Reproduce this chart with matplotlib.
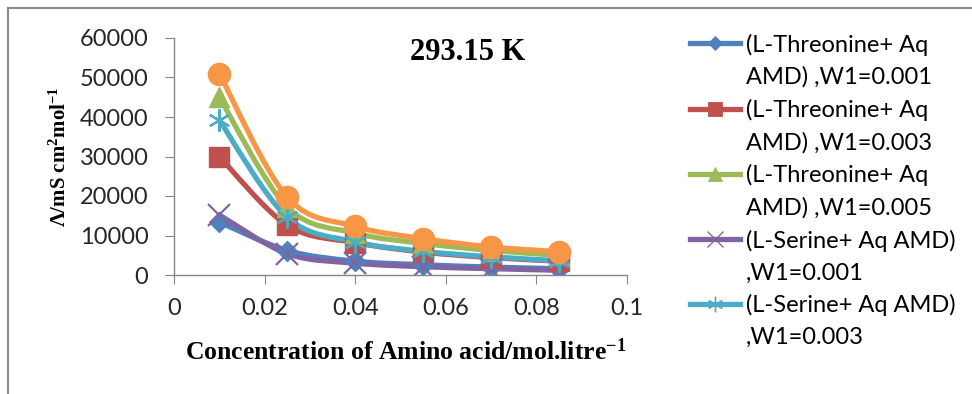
# Libraries ----------------------------------------

import numpy as np
import matplotlib
matplotlib.use("Agg")
import matplotlib.pyplot as plt
from matplotlib.path import Path
from matplotlib.patches import PathPatch
from matplotlib.lines import Line2D

# Data ----------------------------------------

conc = [0.01, 0.025, 0.04, 0.055, 0.07, 0.085]

thr_001 = [13400, 6200, 3500, 2600, 2000, 1600]
thr_003 = [30000, 12600, 8200, 5800, 4400, 3500]
thr_005 = [45000, 17200, 10600, 8000, 6200, 5000]
ser_001 = [15200, 5400, 3000, 2100, 1600, 1200]
ser_003 = [39200, 14600, 8400, 6000, 4600, 3600]
ser_005 = [51000, 19700, 12300, 9200, 7100, 5900]

labels = ["(L-Threonine+ Aq\nAMD) ,W1=0.001",
          "(L-Threonine+ Aq\nAMD) ,W1=0.003",
          "(L-Threonine+ Aq\nAMD) ,W1=0.005",
          "(L-Serine+ Aq AMD)\n,W1=0.001",
          "(L-Serine+ Aq AMD)\n,W1=0.003",
          "(L-Serine+ Aq AMD)\n,W1=0.005"]

x_ticks = [0, 0.02, 0.04, 0.06, 0.08, 0.1]
y_ticks = [0, 10000, 20000, 30000, 40000, 50000, 60000]

# Styles ----------------------------------------

series = [thr_001, thr_003, thr_005, ser_001, ser_003, ser_005]
colors = ["#4F81BD", "#C0504D", "#9BBB59", "#8064A2", "#4BACC6", "#F79646"]
markers = ["D", "s", "^", "x", (6, 2, 0), "o"]
msizes = [10, 14, 14, 16, 16, 16]

plt.rcParams['mathtext.default'] = 'regular'
tick_font = "Lato"
serif = "Liberation Serif"


def smooth_path(xs, ys):
    # Excel-like smoothed line: cubic Bezier segments through the points
    pts = np.column_stack([xs, ys]).astype(float)
    n = len(pts)
    verts = [pts[0]]
    codes = [Path.MOVETO]
    for i in range(n - 1):
        p0 = pts[i - 1] if i > 0 else pts[i]
        p1 = pts[i]
        p2 = pts[i + 1]
        p3 = pts[i + 2] if i + 2 < n else pts[i + 1]
        c1 = p1 + (p2 - p0) / 6.0
        c2 = p2 - (p3 - p1) / 6.0
        verts += [c1, c2, p2]
        codes += [Path.CURVE4] * 3
    return Path(verts, codes)


# Figure ----------------------------------------

fig = plt.figure(figsize=(9.72, 3.94), dpi=100)
ax = fig.add_axes([174 / 972, 1 - 275 / 394, (627 - 174) / 972, (275 - 38) / 394])

handles = []
for ys, c, m, ms in zip(series, colors, markers, msizes):
    patch = PathPatch(smooth_path(conc, ys), facecolor="none", edgecolor=c,
                      lw=3.8, capstyle="round", joinstyle="round")
    ax.add_patch(patch)
    mew = 1.6 if m in ("x", (6, 2, 0)) else 1.0
    ax.plot(conc, ys, linestyle="none", marker=m, markersize=ms, color=c,
            markeredgecolor=c, markeredgewidth=mew)
    handles.append(Line2D([], [], color=c, lw=3.8, marker=m,
                          markersize=ms * 0.7, markeredgewidth=mew * 0.6))

ax.set_xlim(0, 0.1)
ax.set_ylim(0, 60000)
ax.set_xticks(x_ticks)
ax.set_xticklabels(["%g" % t for t in x_ticks])
ax.set_yticks(y_ticks)
ax.set_yticklabels([str(t) for t in y_ticks])

for s in ["top", "right"]:
    ax.spines[s].set_visible(False)
for s in ["left", "bottom"]:
    ax.spines[s].set_color("#868686")
    ax.spines[s].set_linewidth(1.0)
ax.tick_params(axis="both", direction="out", length=6.5, color="#868686",
               labelsize=17, labelcolor="#262626")
ax.tick_params(axis="x", pad=10)
ax.tick_params(axis="y", pad=12)
for lab in ax.get_xticklabels() + ax.get_yticklabels():
    lab.set_fontfamily(tick_font)

fig.text(468 / 972, 1 - 52 / 394, "293.15 K", ha="center", va="center",
         fontsize=22, fontweight="bold", family=serif)
fig.text(60 / 972, 1 - 157 / 394, "Λ/mS cm$^{2}$mol$^{-1}$", rotation=90,
         ha="center", va="center", fontsize=15, fontweight="bold", family=serif)
fig.text(406 / 972, 1 - 352 / 394, "Concentration of Amino acid/mol.litre$^{-1}$",
         ha="center", va="center", fontsize=18.5, fontweight="bold", family=serif)

# legend: handle on the first text line, second line on its own row;
# only the first five entries are visible (the last one is cut off)
leg_handles, leg_labels = [], []
for h, lab in zip(handles[:5], labels[:5]):
    first, second = lab.split("\n")
    leg_handles += [h, Line2D([], [], color="none")]
    leg_labels += [first, second]

fig.legend(leg_handles, leg_labels, loc="upper left",
           bbox_to_anchor=(681 / 972, 1 - 24 / 394), frameon=False,
           prop={"family": tick_font, "size": 17}, handlelength=2.1,
           handletextpad=0.25, labelspacing=0.46, borderaxespad=0)

# outer chart border (left and top visible)
fig.add_artist(Line2D([8 / 972, 8 / 972], [0, 1 - 8 / 394], color="#8c8c8c",
                      lw=1.5, transform=fig.transFigure))
fig.add_artist(Line2D([8 / 972, 1], [1 - 8 / 394, 1 - 8 / 394], color="#8c8c8c",
                      lw=1.5, transform=fig.transFigure))

fig.savefig("out.png", dpi=100)
